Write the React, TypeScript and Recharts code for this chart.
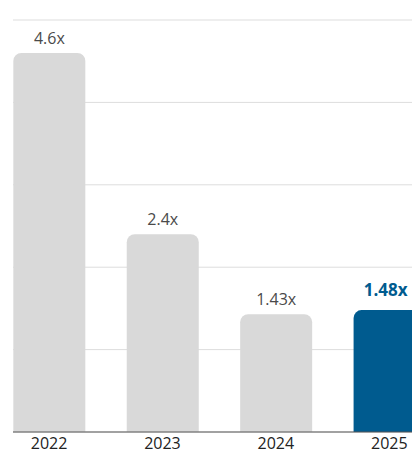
import { BarChart, Bar, XAxis, YAxis, CartesianGrid, Cell, LabelList } from 'recharts';

const years = ['2022', '2023', '2024', '2025'];
const multiples = [4.6, 2.4, 1.43, 1.48];
const valueLabels = ['4.6x', '2.4x', '1.43x', '1.48x'];
const highlightYear = '2025';
const yTicks = [0, 1, 2, 3, 4, 5];

const GREY = '#d9d9d9';
const BLUE = '#005b8f';
const FONT = '"Open Sans", sans-serif';

const data = years.map((year, i) => ({ year, value: multiples[i], label: valueLabels[i] }));

function ValueLabel(props: any) {
  const { x, y, width, index } = props;
  const row = data[index];
  const hi = row.year === highlightYear;
  return (
    <text
      x={x + width / 2}
      y={y - (hi ? 14 : 9)}
      dx={hi ? -4 : 0}
      textAnchor="middle"
      fontFamily={FONT}
      fontSize={hi ? 17 : 16}
      fontWeight={hi ? 700 : 400}
      fill={hi ? BLUE : '#4a4a4a'}
    >
      {row.label}
    </text>
  );
}

export default function App() {
  return (
    <div style={{ position: 'absolute', left: 0, top: 0, width: 412, height: 453, overflow: 'hidden', background: '#fff' }}>
      <BarChart width={446} height={453} data={data} margin={{ top: 20, right: 0, left: 13, bottom: 0 }}>
        <CartesianGrid vertical={false} stroke="#dddddd" />
        <YAxis hide domain={[0, 5]} ticks={yTicks} />
        <XAxis
          dataKey="year"
          height={21}
          padding={{ left: -20.67, right: 0 }}
          tickLine={false}
          tickSize={0}
          tickMargin={6}
          axisLine={{ stroke: '#555' }}
          tick={{ fill: '#222', fontSize: 16, fontFamily: FONT }}
          interval={0}
        />
        <Bar dataKey="value" barSize={72} radius={[8, 8, 0, 0]} isAnimationActive={false}>
          {data.map((d) => (
            <Cell key={d.year} fill={d.year === highlightYear ? BLUE : GREY} />
          ))}
          <LabelList dataKey="label" content={<ValueLabel />} />
        </Bar>
      </BarChart>
    </div>
  );
}
